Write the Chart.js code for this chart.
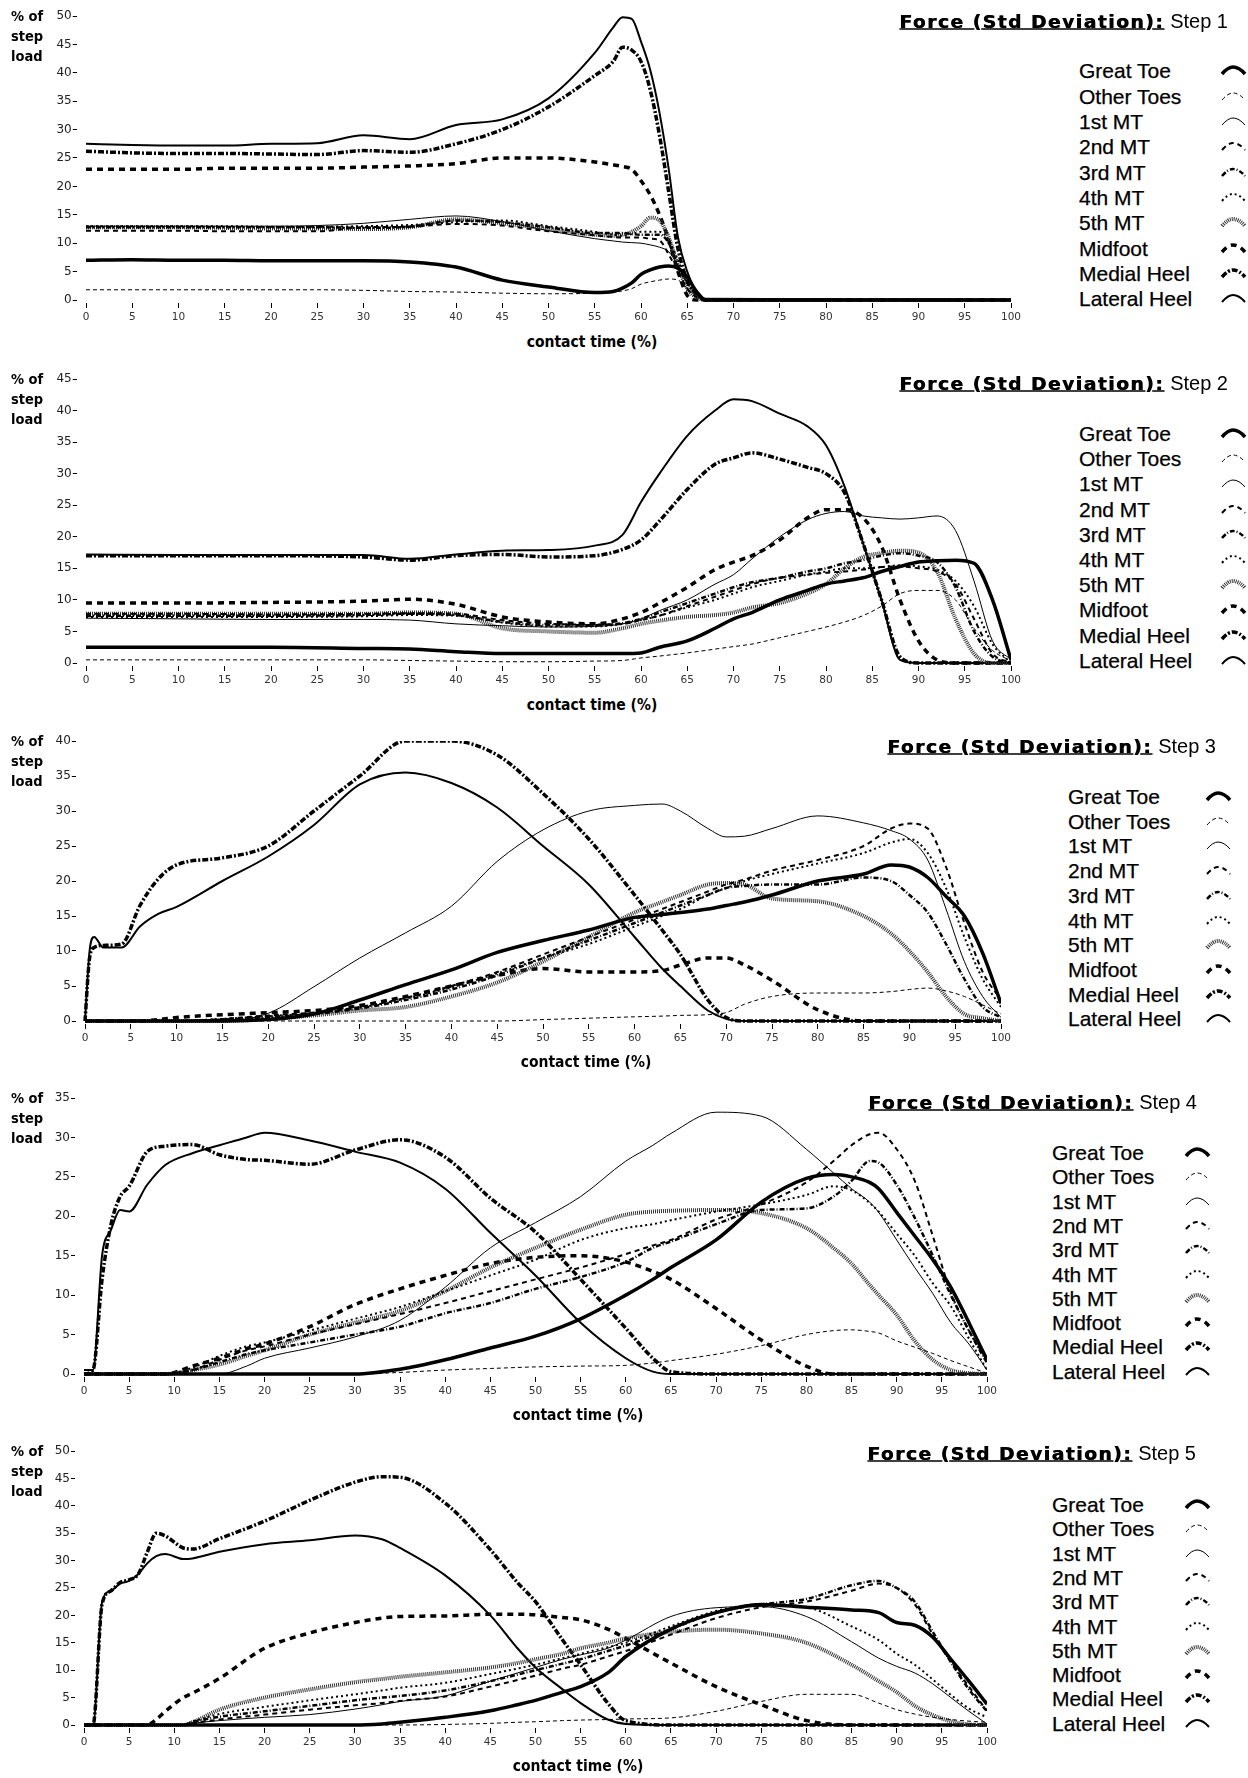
<!DOCTYPE html>
<html>
<head>
<meta charset="utf-8">
<title>Force (Std Deviation) by step</title>
<script src="https://cdn.jsdelivr.net/npm/chart.js@4.4.1/dist/chart.umd.min.js"></script>
<style>
  html, body { margin: 0; padding: 0; background: #fff; }
  body { position: relative; width: 1248px; height: 1778px; overflow: hidden; color: #000; }
  canvas { position: absolute; left: 0; }
  .yunit { position: absolute; left: 11px; font: bold 14.5px "DejaVu Sans Condensed", "DejaVu Sans", sans-serif; line-height: 20px; }
  .xunit { position: absolute; font: bold 15.5px "DejaVu Sans Condensed", "DejaVu Sans", sans-serif; transform: translate(-50%, -50%); white-space: nowrap; }
  .title { position: absolute; white-space: nowrap; transform: translate(-100%, -50%); font: 20px "Liberation Sans", Arial, sans-serif; }
  .title b { font: bold 18.5px "DejaVu Sans", sans-serif; letter-spacing: 1.6px; text-decoration: underline; text-shadow: 0.6px 0 0 #000; margin-right: 6px; }
  .key { position: absolute; white-space: nowrap; transform: translateY(-50%); font: 21px "Liberation Sans", Arial, sans-serif; -webkit-text-stroke: 0.25px #000; }
</style>
</head>
<body>
<script>
// series names, same order in every step
const seriesNames = ["Great Toe", "Other Toes", "1st MT", "2nd MT", "3rd MT", "4th MT", "5th MT", "Midfoot", "Medial Heel", "Lateral Heel"];
const xTickValues = [0, 5, 10, 15, 20, 25, 30, 35, 40, 45, 50, 55, 60, 65, 70, 75, 80, 85, 90, 95, 100];

// ---- step 1 ----
const step1YTicks = [0, 5, 10, 15, 20, 25, 30, 35, 40, 45, 50];
const step1Time = [0, 5, 10, 15, 20, 25, 30, 35, 40, 45, 50, 55, 57, 58, 59, 60, 61, 62, 63, 64, 65, 66, 67, 100];
const s1GreatToe = [7, 7.1, 7, 7, 6.9, 6.9, 6.9, 6.7, 5.8, 3.5, 2.3, 1.3, 1.5, 2.1, 3, 4.5, 5.3, 5.8, 6, 5.6, 4, 1.5, 0, 0];
const s1OtherToes = [1.8, 1.8, 1.8, 1.8, 1.8, 1.8, 1.7, 1.5, 1.4, 1.2, 1.1, 1.2, 1.4, 1.6, 2, 2.8, 3.2, 3.5, 3.7, 3.5, 2, 0.5, 0, 0];
const s1FirstMT = [13, 13, 13, 13, 13, 13.1, 13.5, 14.2, 14.8, 13.8, 12.2, 10.8, 10.4, 10.2, 10.1, 10, 9.7, 9.3, 8.5, 6, 3, 1, 0, 0];
const s1SecondMT = [12.2, 12.2, 12.2, 12.1, 12.1, 12.1, 12.8, 12.9, 13.4, 13.1, 12.1, 11.4, 11.1, 11, 11, 11, 10.8, 10.5, 8, 5, 2, 0.5, 0, 0];
const s1ThirdMT = [12.8, 12.8, 12.8, 12.8, 12.8, 12.8, 12.7, 12.9, 14, 13.7, 12.8, 11.8, 11.8, 11.8, 11.6, 11.5, 11.5, 11.5, 10, 6, 3, 1, 0, 0];
const s1FourthMT = [13, 13, 13, 13, 12.9, 12.9, 13, 13.2, 13.7, 14, 13, 12, 11.5, 11.3, 11.6, 12, 12, 12, 10.5, 7, 3, 1, 0, 0];
const s1FifthMT = [12.8, 12.8, 12.8, 12.7, 12.6, 12.6, 12.5, 12.8, 14.2, 13.5, 12.5, 11.5, 11.3, 11.5, 12, 13, 14.5, 14, 11, 6, 2, 0.5, 0, 0];
const s1Midfoot = [23, 23, 23, 23.2, 23.2, 23.2, 23.4, 23.6, 24, 25, 25, 24.3, 23.8, 23.5, 23, 21, 18.5, 15, 10.5, 5, 0.8, 0, 0, 0];
const s1MedialHeel = [26.2, 25.9, 25.8, 25.8, 25.7, 25.6, 26.3, 26, 27.5, 30, 34, 39.5, 42, 44.5, 44, 42, 37, 29, 19, 9, 3.5, 1, 0, 0];
const s1LateralHeel = [27.5, 27.3, 27.2, 27.2, 27.5, 27.6, 29, 28.3, 30.8, 31.8, 35.5, 43.5, 48, 49.8, 49.5, 45.5, 40.5, 33, 23, 11, 5, 1.5, 0.2, 0];

// ---- step 2 ----
const step2YTicks = [0, 5, 10, 15, 20, 25, 30, 35, 40, 45];
const step2Time = [0, 10, 20, 30, 35, 40, 45, 50, 55, 58, 60, 62, 65, 68, 70, 72, 75, 78, 80, 82, 84, 86, 88, 90, 92, 94, 96, 98, 100];
const s2GreatToe = [2.5, 2.5, 2.5, 2.3, 2.2, 1.8, 1.5, 1.5, 1.5, 1.5, 1.6, 2.5, 3.5, 5.5, 7, 8, 10, 11.5, 12.5, 13, 13.5, 14.5, 15.3, 16, 16.2, 16.3, 15.8, 10, 0.5];
const s2OtherToes = [0.5, 0.5, 0.5, 0.5, 0.4, 0.3, 0.2, 0.2, 0.3, 0.4, 0.8, 1.1, 1.6, 2.2, 2.6, 3, 4, 5, 5.7, 6.5, 7.5, 9, 11, 11.5, 11.5, 10, 5.5, 2, 0.3];
const s2FirstMT = [7.1, 7, 6.9, 6.9, 6.8, 6.2, 5.9, 5.7, 5.8, 6.2, 7, 8.3, 10, 12.5, 14, 16.5, 20, 22.7, 23.7, 24, 23.3, 23, 22.8, 23, 23.3, 21, 13, 3.5, 0.5];
const s2SecondMT = [7.8, 7.8, 7.7, 7.8, 7.9, 7.8, 6.8, 6.2, 6.1, 6.2, 6.8, 7.5, 9, 10.5, 11.5, 12.5, 13.5, 14, 14.3, 14.5, 14.8, 15.2, 15.3, 15, 14.5, 12.5, 7, 1.5, 0];
const s2ThirdMT = [7.5, 7.5, 7.5, 7.6, 7.8, 7.6, 6.5, 6, 6, 6.3, 7, 8, 9.5, 11, 12, 12.8, 13.5, 14.5, 15, 15.8, 16.3, 17, 17.4, 17, 16, 12, 5, 1, 0];
const s2FourthMT = [7.3, 7.3, 7.3, 7.4, 7.6, 7.5, 6.4, 5.8, 5.8, 6.2, 6.8, 7.5, 8.8, 10, 11, 12, 13, 14, 14.5, 15, 15, 15.2, 15.5, 15.3, 14.8, 13, 9, 3, 0];
const s2FifthMT = [7.8, 7.8, 7.8, 7.8, 8, 7.8, 5.5, 5, 4.8, 5.5, 6.2, 6.7, 7.3, 7.6, 8, 8.8, 9.5, 11, 12.5, 15, 16.8, 17.4, 17.8, 17.5, 14.5, 7, 1.5, 0, 0];
const s2Midfoot = [9.5, 9.5, 9.6, 9.8, 10.1, 9.3, 7.3, 6.5, 6.2, 7, 8, 9.5, 12, 14.8, 16, 17, 19.5, 23, 24.3, 24.3, 23, 18.5, 10, 3.5, 0.5, 0, 0, 0, 0];
const s2MedialHeel = [17, 17, 17, 16.8, 16.3, 17, 17.2, 16.8, 17, 18, 19.5, 22.5, 27.5, 31.5, 32.5, 33.3, 32.3, 31, 30, 27, 19, 10, 1, 0, 0, 0, 0, 0, 0];
const s2LateralHeel = [17.2, 17.1, 17.1, 17.1, 16.5, 17.2, 17.8, 17.9, 18.6, 20.3, 25.5, 30, 36, 40, 41.8, 41.5, 39.5, 37.5, 34.5, 28, 19, 10, 0.5, 0, 0, 0, 0, 0, 0];

// ---- step 3 ----
const step3YTicks = [0, 5, 10, 15, 20, 25, 30, 35, 40];
const step3Time = [0, 0.5, 1, 2, 4, 6, 8, 10, 15, 20, 25, 30, 35, 40, 45, 50, 55, 60, 63, 65, 68, 70, 72, 75, 80, 85, 88, 90, 92, 94, 96, 98, 100];
const s3GreatToe = [0, 0, 0, 0, 0, 0, 0, 0, 0, 0.2, 1, 3, 5.2, 7.3, 9.8, 11.5, 13, 14.8, 15.2, 15.5, 16, 16.5, 17, 18, 20, 21, 22.3, 22, 20.5, 17.8, 15, 9.7, 2.5];
const s3OtherToes = [0, 0, 0, 0, 0, 0, 0, 0, 0, 0, 0, 0, 0, 0, 0, 0.2, 0.4, 0.6, 0.7, 0.8, 0.9, 1.2, 2.4, 3.5, 4, 4, 4.2, 4.5, 4.7, 4.3, 3.5, 2.3, 1];
const s3FirstMT = [0, 0, 0, 0, 0, 0, 0, 0, 0, 1.1, 4.9, 9, 12.6, 16.4, 22.8, 27.3, 30, 30.8, 31, 30, 27.5, 26.3, 26.4, 27.5, 29.3, 28.3, 27.2, 26, 23, 16, 8.5, 3.5, 0.5];
const s3SecondMT = [0, 0, 0, 0, 0, 0, 0, 0, 0.3, 0.8, 1.2, 2, 3.3, 5, 7, 9.5, 12, 14.5, 16, 17, 18.5, 19.5, 20.2, 21.5, 23, 25, 27.5, 28.2, 27.5, 22, 14, 7, 3];
const s3ThirdMT = [0, 0, 0, 0, 0, 0, 0, 0, 0.2, 0.6, 1, 1.8, 3, 4.5, 6.5, 9, 11.5, 14, 15.5, 16.5, 18, 19, 19.3, 19.5, 19.5, 20.5, 20, 18, 15.5, 11, 6, 2, 0.5];
const s3FourthMT = [0, 0, 0, 0, 0, 0, 0, 0, 0.3, 0.7, 1.1, 1.9, 3.2, 4.8, 6.8, 9, 11, 13.5, 15, 16, 18, 19, 20, 21, 22.5, 24, 25.5, 26, 24, 19, 12, 6, 2];
const s3FifthMT = [0, 0, 0, 0, 0, 0, 0, 0, 0, 0.3, 0.8, 1.5, 2, 3.5, 5.5, 8.5, 12, 15.5, 17, 18, 19.5, 19.7, 19.5, 17.5, 17.1, 15, 12.5, 10, 7, 3.5, 1, 0.4, 0];
const s3Midfoot = [0, 0, 0, 0, 0, 0, 0.2, 0.5, 0.9, 1.2, 1.5, 2.2, 3.5, 5, 6.5, 7.5, 7, 7, 7.2, 8, 9, 9, 8, 5.8, 1.6, 0, 0, 0, 0, 0, 0, 0, 0];
const s3MedialHeel = [0, 9, 10.5, 10.8, 11, 16.5, 20.3, 22.3, 23.3, 25, 30, 35, 40, 40, 38, 32.5, 26, 18, 13, 9.5, 3, 0.5, 0, 0, 0, 0, 0, 0, 0, 0, 0, 0, 0];
const s3LateralHeel = [0, 10, 12, 10.5, 10.5, 13.5, 15.3, 16.3, 20, 23.5, 28, 33.8, 35.5, 34, 30.5, 25, 19.5, 12, 7.5, 5, 1.5, 0.3, 0, 0, 0, 0, 0, 0, 0, 0, 0, 0, 0];

// ---- step 4 ----
const step4YTicks = [0, 5, 10, 15, 20, 25, 30, 35];
const step4Time = [0, 1, 2, 3, 4, 5, 7, 9, 12, 15, 18, 20, 25, 30, 35, 40, 45, 50, 55, 60, 63, 65, 70, 75, 80, 83, 85, 87, 88, 90, 92, 94, 96, 98, 100];
const s4GreatToe = [0, 0, 0, 0, 0, 0, 0, 0, 0, 0, 0, 0, 0, 0, 0.6, 1.8, 3.3, 4.8, 7, 10, 12, 13.5, 17, 21.8, 24.8, 25.3, 25, 24.3, 23.5, 20.5, 17.5, 14.5, 11, 6.5, 1.8];
const s4OtherToes = [0, 0, 0, 0, 0, 0, 0, 0, 0, 0, 0, 0, 0, 0, 0.2, 0.5, 0.7, 0.9, 1, 1.1, 1.4, 1.7, 2.5, 3.6, 5, 5.5, 5.6, 5.4, 5.2, 4.2, 3.4, 2.6, 1.7, 0.9, 0.1];
const s4FirstMT = [0, 0, 0, 0, 0, 0, 0, 0, 0, 0, 1, 2, 3.3, 4.7, 6.8, 11, 16, 19.2, 22.5, 27, 29, 30.5, 33.2, 32.7, 28.5, 25.5, 23.5, 21.8, 20.5, 17, 13.5, 10.2, 6.5, 3.8, 0.5];
const s4SecondMT = [0, 0, 0, 0, 0, 0, 0, 0, 0.5, 1.8, 3, 3.5, 5, 6.3, 7.6, 9, 10.5, 12, 13.5, 15.2, 16.3, 17, 19.6, 21.5, 24.3, 27, 29, 30.4, 30.6, 28.5, 24.5, 17.5, 10.3, 5.5, 1.8];
const s4ThirdMT = [0, 0, 0, 0, 0, 0, 0, 0, 0.5, 1.5, 2.5, 3, 4, 5, 6, 7.7, 9, 10.8, 12.3, 14.2, 16, 16.8, 19, 20.8, 21, 22.5, 24.5, 27, 26.8, 24, 19.8, 15, 10, 5.5, 1.4];
const s4FourthMT = [0, 0, 0, 0, 0, 0, 0, 0, 0.8, 2.3, 3.5, 4, 5.5, 7, 8.5, 10.5, 12.5, 14.5, 17, 18.5, 19, 19.5, 20.6, 21.5, 22.7, 23.8, 23.3, 21.7, 20.6, 17.8, 15, 11.5, 8.6, 4.5, 0.5];
const s4FifthMT = [0, 0, 0, 0, 0, 0, 0, 0, 0.5, 1.2, 2.3, 3, 5, 6.5, 8, 10.5, 13.5, 16, 18.3, 20.2, 20.6, 20.7, 20.8, 20.4, 18.5, 16, 14, 11.3, 10, 7.5, 4.2, 1.8, 0.5, 0.1, 0];
const s4Midfoot = [0, 0, 0, 0, 0, 0, 0, 0, 1, 2, 3.2, 3.8, 6, 8.8, 10.8, 12.5, 14, 14.8, 15, 14.2, 13, 12, 8.3, 4.3, 1, 0, 0, 0, 0, 0, 0, 0, 0, 0, 0];
const s4MedialHeel = [0, 0.5, 12, 19, 22.5, 23.8, 28.2, 28.9, 29.1, 27.8, 27.2, 27.1, 26.6, 28.4, 29.7, 27.5, 22.3, 18, 12, 5.8, 2, 0.3, 0, 0, 0, 0, 0, 0, 0, 0, 0, 0, 0, 0, 0];
const s4LateralHeel = [0.5, 0.5, 15, 18.3, 20.8, 20.6, 24, 26.5, 28, 29, 30, 30.6, 29.6, 28.2, 26.8, 23.5, 17.9, 12.5, 6.5, 2, 0.3, 0, 0, 0, 0, 0, 0, 0, 0, 0, 0, 0, 0, 0, 0];

// ---- step 5 ----
const step5YTicks = [0, 5, 10, 15, 20, 25, 30, 35, 40, 45, 50];
const step5Time = [0, 1, 2, 3, 4, 5, 6, 7, 8, 9, 11, 12, 15, 20, 25, 30, 33, 35, 40, 45, 48, 50, 53, 55, 58, 60, 65, 70, 75, 80, 85, 88, 90, 92, 94, 96, 98, 100];
const s5GreatToe = [0, 0, 0, 0, 0, 0, 0, 0, 0, 0, 0, 0, 0, 0, 0, 0, 0.2, 0.5, 1.4, 2.6, 3.7, 4.5, 6, 7, 9.5, 12.5, 17.5, 20.5, 22, 21.5, 21, 20.5, 18.7, 18.2, 16, 12, 8, 3.8];
const s5OtherToes = [0, 0, 0, 0, 0, 0, 0, 0, 0, 0, 0, 0, 0, 0, 0, 0, 0, 0, 0.1, 0.3, 0.5, 0.6, 0.8, 0.9, 1, 1.1, 1.3, 2.5, 4.3, 5.6, 5.6, 4, 2.8, 2, 1.4, 1, 0.7, 0.5];
const s5FirstMT = [0, 0, 0, 0, 0, 0, 0, 0, 0, 0, 0, 0.3, 0.8, 1.4, 1.9, 2.9, 3.7, 4.3, 5.3, 8, 9.5, 10.5, 12, 12.8, 14, 15.5, 19.8, 21.4, 21.6, 19.8, 15.2, 12.2, 10.7, 9.5, 7.5, 5, 2.5, 0.2];
const s5SecondMT = [0, 0, 0, 0, 0, 0, 0, 0, 0, 0, 0, 0.3, 1, 1.9, 2.8, 3.6, 4, 4.4, 5.2, 7, 8.2, 9, 10.3, 11, 12.5, 13.5, 16.5, 19.5, 21.5, 22.5, 24.5, 25.8, 25, 22, 16.5, 11.5, 7, 2.6];
const s5ThirdMT = [0, 0, 0, 0, 0, 0, 0, 0, 0, 0, 0, 0.5, 1.5, 2.5, 3.5, 4.5, 5, 5.3, 6.3, 8, 9.2, 10, 11.2, 12, 13.5, 14.5, 17.5, 20.5, 22, 23, 25.5, 26.3, 25, 22.5, 17, 11.5, 6.5, 2.5];
const s5FourthMT = [0, 0, 0, 0, 0, 0, 0, 0, 0, 0, 0, 0.6, 2, 3.3, 4.5, 5.6, 6.3, 6.8, 7.7, 9.3, 10.3, 11, 12.2, 13, 14.2, 15, 18, 20.8, 22, 21.5, 18, 15.5, 13, 11, 8.3, 5.5, 3, 1.4];
const s5FifthMT = [0, 0, 0, 0, 0, 0, 0, 0, 0, 0, 0, 0.5, 2.8, 5, 6.5, 7.8, 8.4, 8.8, 9.6, 10.5, 11.3, 12, 13, 14, 15, 15.8, 17, 17.4, 16.7, 15, 11, 8, 6, 3.5, 1.8, 0.7, 0.1, 0];
const s5Midfoot = [0, 0, 0, 0, 0, 0, 0, 0, 1, 2.5, 5, 5.8, 8.5, 14, 16.8, 18.7, 19.5, 19.8, 19.9, 20.2, 20.2, 20.1, 19.6, 19.2, 17.5, 15.8, 11.3, 7, 3.7, 0.8, 0, 0, 0, 0, 0, 0, 0, 0];
const s5MedialHeel = [0, 0, 22, 24.5, 26, 26.5, 27.5, 31.5, 35, 34.5, 32.3, 32.1, 34, 37.2, 41, 44.3, 45.3, 45.2, 40.5, 32, 26, 22.5, 15.5, 11, 4, 0.8, 0, 0, 0, 0, 0, 0, 0, 0, 0, 0, 0, 0];
const s5LateralHeel = [0, 0, 22.4, 24.5, 25.8, 26.3, 27.5, 29.5, 30.8, 31.2, 30.3, 30.4, 31.6, 33, 33.7, 34.6, 33.9, 32.3, 27.3, 20, 14, 10.5, 6.5, 4, 1, 0.2, 0, 0, 0, 0, 0, 0, 0, 0, 0, 0, 0, 0];

const steps = [
    { label: "Step 1", time: step1Time, yTicks: step1YTicks,
      series: [s1GreatToe, s1OtherToes, s1FirstMT, s1SecondMT, s1ThirdMT, s1FourthMT, s1FifthMT, s1Midfoot, s1MedialHeel, s1LateralHeel] },
    { label: "Step 2", time: step2Time, yTicks: step2YTicks,
      series: [s2GreatToe, s2OtherToes, s2FirstMT, s2SecondMT, s2ThirdMT, s2FourthMT, s2FifthMT, s2Midfoot, s2MedialHeel, s2LateralHeel] },
    { label: "Step 3", time: step3Time, yTicks: step3YTicks,
      series: [s3GreatToe, s3OtherToes, s3FirstMT, s3SecondMT, s3ThirdMT, s3FourthMT, s3FifthMT, s3Midfoot, s3MedialHeel, s3LateralHeel] },
    { label: "Step 4", time: step4Time, yTicks: step4YTicks,
      series: [s4GreatToe, s4OtherToes, s4FirstMT, s4SecondMT, s4ThirdMT, s4FourthMT, s4FifthMT, s4Midfoot, s4MedialHeel, s4LateralHeel] },
    { label: "Step 5", time: step5Time, yTicks: step5YTicks,
      series: [s5GreatToe, s5OtherToes, s5FirstMT, s5SecondMT, s5ThirdMT, s5FourthMT, s5FifthMT, s5Midfoot, s5MedialHeel, s5LateralHeel] },
];

// line look for each series (black lines told apart by dash and weight)
const lineStyles = [
    { width: 3.5, dash: [] },               // Great Toe
    { width: 1, dash: [4, 3] },             // Other Toes
    { width: 1, dash: [] },                 // 1st MT
    { width: 2, dash: [5, 4] },             // 2nd MT
    { width: 2.5, dash: [5, 2, 1, 2] },     // 3rd MT
    { width: 2, dash: [2, 3] },             // 4th MT
    { width: 4, dash: [1, 1], color: "#333" }, // 5th MT
    { width: 3.5, dash: [6, 5] },           // Midfoot
    { width: 3.5, dash: [6, 2, 2, 2] },     // Medial Heel
    { width: 2, dash: [] },                 // Lateral Heel
];

// where each panel sits on the page (px): plot box, title, key, axis captions
const panelLayout = [
    { left: 86, right: 1011, top: 16, bottom: 300, titleRight: 1228, titleY: 21, keyX: 1079, symX: 1220, keyY: 71.4, keyGap: 25.3, capX: 592, capY: 342 },
    { left: 86, right: 1011, top: 379, bottom: 663, titleRight: 1228, titleY: 383, keyX: 1079, symX: 1220, keyY: 434, keyGap: 25.2, capX: 592, capY: 705 },
    { left: 85, right: 1001, top: 741, bottom: 1021, titleRight: 1216, titleY: 746, keyX: 1068, symX: 1205, keyY: 797, keyGap: 24.7, capX: 586, capY: 1062 },
    { left: 84, right: 987, top: 1098, bottom: 1374, titleRight: 1197, titleY: 1102, keyX: 1052, symX: 1184, keyY: 1153, keyGap: 24.3, capX: 578, capY: 1415 },
    { left: 84, right: 987, top: 1451, bottom: 1725, titleRight: 1196, titleY: 1453, keyX: 1052, symX: 1184, keyY: 1505, keyGap: 24.3, capX: 578, capY: 1766 },
];

const addDiv = (cls, html, x, y) => {
    const d = document.createElement("div");
    d.className = cls;
    d.innerHTML = html;
    d.style.left = x + "px";
    d.style.top = y + "px";
    document.body.appendChild(d);
    return d;
};

const drawKeySymbol = (x, y, style) => {
    const c = document.createElement("canvas");
    c.width = 28;
    c.height = 14;
    c.style.left = x + "px";
    c.style.top = (y - 8) + "px";
    document.body.appendChild(c);
    const ctx = c.getContext("2d");
    ctx.strokeStyle = style.color || "#000";
    ctx.lineWidth = style.width;
    ctx.setLineDash(style.dash);
    ctx.beginPath();
    ctx.moveTo(2, 11);
    ctx.quadraticCurveTo(8, 4, 13, 4);
    ctx.quadraticCurveTo(19, 4, 25, 11);
    ctx.stroke();
};

const buildPanel = (step, lay) => {
    const yMax = step.yTicks[step.yTicks.length - 1];
    const pxPerY = (lay.bottom - lay.top) / yMax;
    const pxPerX = (lay.right - lay.left) / 100;
    const yMin = -3 / pxPerY;           // small gap under the baseline
    const yAxisWidth = lay.left - pxPerX; // x = -1 sits at chart area edge
    const xAxisHeight = 30;
    const canvasTop = lay.top - 12;

    const canvas = document.createElement("canvas");
    canvas.width = lay.right + 24;
    canvas.height = (lay.bottom + 3) - canvasTop + xAxisHeight;
    canvas.style.top = canvasTop + "px";
    document.body.appendChild(canvas);

    new Chart(canvas.getContext("2d"), {
        type: "line",
        data: {
            datasets: seriesNames.map((name, i) => ({
                label: name,
                data: step.time.map((t, k) => ({ x: t, y: step.series[i][k] })),
                borderColor: lineStyles[i].color || "#000",
                borderWidth: lineStyles[i].width,
                borderDash: lineStyles[i].dash,
                pointRadius: 0,
                fill: false,
                cubicInterpolationMode: "monotone",
            })),
        },
        options: {
            responsive: false,
            animation: false,
            layout: { padding: { top: 12, right: 24, left: 0, bottom: 0 } },
            plugins: { legend: { display: false }, tooltip: { enabled: false } },
            scales: {
                x: {
                    type: "linear",
                    min: -1,
                    max: 100,
                    afterBuildTicks: (axis) => { axis.ticks = xTickValues.map((v) => ({ value: v })); },
                    afterFit: (axis) => { axis.height = xAxisHeight; },
                    border: { display: false },
                    grid: { drawOnChartArea: false, drawTicks: true, tickLength: 5, color: "#000", lineWidth: 1 },
                    ticks: { autoSkip: false, maxRotation: 0, padding: 3, color: "#333", font: { family: "DejaVu Sans", size: 10.5 }, callback: (v) => String(v) },
                },
                y: {
                    min: yMin,
                    max: yMax,
                    afterBuildTicks: (axis) => { axis.ticks = step.yTicks.map((v) => ({ value: v })); },
                    afterFit: (axis) => { axis.width = yAxisWidth; },
                    border: { display: false },
                    grid: { drawOnChartArea: false, drawTicks: true, tickLength: 4, color: "#000", lineWidth: 1 },
                    ticks: { autoSkip: false, padding: 1, color: "#222", font: { family: "DejaVu Sans", size: 12 }, callback: (v) => String(v) },
                },
            },
        },
    });

    addDiv("yunit", "% of<br>step<br>load", 11, lay.top - 10);
    addDiv("xunit", "contact time (%)", lay.capX, lay.capY);
    addDiv("title", "<b>Force (Std Deviation):</b>" + step.label, lay.titleRight, lay.titleY);

    seriesNames.forEach((name, i) => {
        const y = lay.keyY + i * lay.keyGap;
        addDiv("key", name, lay.keyX, y);
        drawKeySymbol(lay.symX, y, lineStyles[i]);
    });
};

document.addEventListener("DOMContentLoaded", () => {
    steps.forEach((step, i) => buildPanel(step, panelLayout[i]));
});
</script>
</body>
</html>
